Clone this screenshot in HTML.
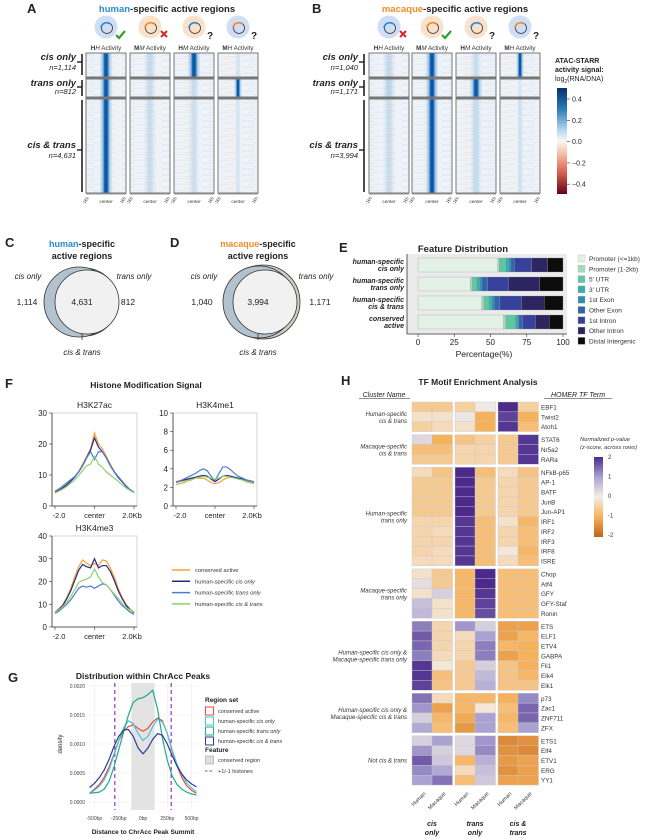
<!DOCTYPE html>
<html><head><meta charset="utf-8">
<style>
html,body{margin:0;padding:0;background:#fff;}
svg{display:block;font-family:"Liberation Sans",Arial,sans-serif;}
</style></head>
<body>
<svg id="fig" width="652" height="839" viewBox="0 0 652 839" xmlns="http://www.w3.org/2000/svg">
<defs id="defs">
  <linearGradient id="cbarB" x1="0" y1="0" x2="0" y2="1">
    <stop offset="0" stop-color="#08306b"/><stop offset="0.2" stop-color="#2b7bba"/><stop offset="0.4" stop-color="#b9d8ec"/>
    <stop offset="0.5" stop-color="#f7f7f7"/><stop offset="0.6" stop-color="#f9c9b0"/><stop offset="0.8" stop-color="#d6604d"/><stop offset="1" stop-color="#67001f"/>
  </linearGradient>
  <linearGradient id="cbarH" x1="0" y1="0" x2="0" y2="1">
    <stop offset="0" stop-color="#4b2a8c"/><stop offset="0.25" stop-color="#a9a2d3"/><stop offset="0.5" stop-color="#f4ede5"/>
    <stop offset="0.75" stop-color="#f6b25a"/><stop offset="1" stop-color="#c2621a"/>
  </linearGradient>
  <pattern id="streaks" width="40" height="6" patternUnits="userSpaceOnUse">
    <rect width="40" height="6" fill="#eff3f8"/>
    <line x1="2" y1="1" x2="14" y2="1" stroke="#cfe0f0" stroke-width="0.7"/>
    <line x1="24" y1="2.5" x2="36" y2="2.5" stroke="#f6dccc" stroke-width="0.6"/>
    <line x1="8" y1="4.5" x2="30" y2="4.5" stroke="#d8e7f3" stroke-width="0.6"/>
  </pattern>
</defs>
<g id="root"></g>
</svg>
<script>
// ---------- DATA ----------
// Panel E
const featCats = ["Promoter (<=1kb)","Promoter (1-2kb)","5' UTR","3' UTR","1st Exon","Other Exon","1st Intron","Other Intron","Distal Intergenic"];
const featRows = ["human-specific|cis only","human-specific|trans only","human-specific|cis & trans","conserved|active"];
const featCisOnly = [55,1,4.5,2,1.5,2.5,12,11,10.5];
const featTransOnly = [36,1.5,3,2,1.5,4,14.5,21.5,16];
const featCisTrans = [44,1.5,3.5,2,1.5,4,15,15.5,13];
const featConserved = [59,1.5,6.5,1.5,1,2.5,9,9.5,9.5];
const featTicks = [0,25,50,75,100];
// Panel F
const histX = [-2,-1.8,-1.6,-1.4,-1.2,-1,-0.8,-0.6,-0.4,-0.2,0,0.2,0.4,0.6,0.8,1,1.2,1.4,1.6,1.8,2];
const k27Cons = [4.5,5.2,6,7,8.2,9.5,11.2,13.5,16,18.5,23.5,20,18.5,16,13.5,11.2,9.5,8,6.5,5.3,4.5];
const k27Cis = [4.3,5,5.8,6.8,8,9.3,11,13,15.5,18,22,19,17.5,15.5,13,11,9.2,7.8,6.3,5.2,4.3];
const k27Trans = [4.8,5.5,6.5,7.5,8.5,9.5,11,13,15.5,17.5,15,17.5,17.5,15.5,13,11,9.5,8,6.5,5.3,4.5];
const k27CT = [4.2,4.8,5.5,6.3,7.3,8.5,9.8,11.5,13,13.5,16,13.5,12.5,11,10,9,8,6.8,5.8,5,4.3];
const k4me1Cons = [2.5,2.6,2.7,2.8,2.9,3,3,3,2.8,2.5,2.4,2.5,2.8,3,3.1,3,2.9,2.8,2.7,2.6,2.5];
const k4me1Cis = [2.6,2.7,2.8,2.9,3,3.1,3.2,3.3,3.2,2.9,2.6,2.9,3.2,3.3,3.2,3.1,3,2.9,2.8,2.7,2.6];
const k4me1Trans = [2.6,2.7,2.9,3.1,3.3,3.5,3.8,4,3.8,3.2,2.7,3.5,4.2,4.2,3.9,3.5,3.2,3,2.8,2.7,2.6];
const k4me1CT = [2.3,2.4,2.5,2.7,2.8,3,3.1,3.2,3.1,3,2.9,3,3.2,3.2,3.1,3,2.9,2.8,2.6,2.5,2.4];
const k4me3Cons = [6.5,8,10,13,17,22,26.5,29.5,28,27,28,27,29.5,29,26,22,17,13,10,8,6.5];
const k4me3Cis = [6.5,7.8,9.5,12.5,16,20.5,25,27.5,26.5,26,30,26,27,27,24.5,20.5,16,12.5,9.5,7.5,6.2];
const k4me3Trans = [6,7,8.5,10,12,14.5,17,18,17.5,18,17,18,19,18.5,16.5,14,11.5,9.5,8,6.5,5.5];
const k4me3CT = [6.5,7.5,9,11,13.5,16.5,19.5,20.5,21,22,25.5,22,19.5,18.5,16.5,14.5,12.5,10.5,8.5,7.5,6.5];
// Panel G
const distX = [-550,-500,-450,-400,-350,-300,-250,-200,-150,-100,-50,0,50,100,150,200,250,300,350,400,450,500,550];
const densCons = [.00015,.00022,.0003,.00042,.0006,.00082,.00105,.00122,.0013,.00133,.00127,.00122,.00127,.00138,.00145,.0014,.00118,.00088,.00062,.00042,.00028,.0002,.00015];
const densCis = [.00015,.0002,.00027,.00038,.00055,.0008,.00105,.00128,.0014,.00135,.00118,.00106,.00113,.0013,.00143,.00138,.00118,.0009,.00065,.00047,.00033,.00024,.00018];
const densTrans = [.00015,.00016,.00017,.00022,.00035,.0006,.0009,.0012,.0015,.00172,.00178,.0018,.00185,.00193,.0016,.0011,.00072,.00045,.0003,.00022,.00017,.00014,.00012];
const densCT = [.00025,.00032,.00042,.00055,.00073,.00095,.00113,.00124,.00125,.00113,.00093,.00083,.00093,.00108,.00118,.00115,.001,.0008,.00062,.00048,.00038,.00031,.00026];
const densTicks = [0,0.0005,0.001,0.0015,0.002];
const densTickLabels = ["0.0000","0.0005","0.0010","0.0015","0.0020"];
const distTicks = [-500,-250,0,250,500];
const distTickLabels = ["-500bp","-250bp","0bp","250bp","500bp"];
// Panel H
const tfNames = ["EBF1","Twist2","Atoh1","STAT6","Nr5a2","RARa","NFkB-p65","AP-1","BATF","JunB","Jun-AP1","IRF1","IRF2","IRF3","IRF8","ISRE","Chop","Atf4","GFY","GFY-Staf","Ronin","ETS","ELF1","ETV4","GABPA","Fli1","Elk4","Elk1","p73","Zac1","ZNF711","ZFX","ETS1","Elf4","ETV1","ERG","YY1"];
const tfGroupSizes = [3,3,10,5,7,4,5];
const tfGroupNames = ["Human-specific|cis & trans","Macaque-specific|cis & trans","Human-specific|trans only","Macaque-specific|trans only","Human-specific cis only &|Macaque-specific trans only","Human-specific cis only &|Macaque-specific cis & trans","Not cis & trans"];
const tfZ = [
[-0.6,-0.6,-0.5,0.05,2,-0.5],[-0.2,-0.2,0.1,-1,1.8,-1],[-0.5,-0.3,-0.2,-1,1.9,-0.8],
[0.3,-1,-0.7,-0.5,-0.6,1.9],[-0.8,-0.8,-0.4,-0.4,-0.6,1.9],[-0.6,-0.6,-0.4,-0.4,-0.6,1.9],
[-0.3,-0.7,2,-0.8,-0.3,-0.7],[-0.6,-0.6,2,-0.6,-0.4,-0.6],[-0.6,-0.6,2,-0.6,-0.4,-0.6],[-0.6,-0.6,2,-0.6,-0.4,-0.6],[-0.6,-0.6,2,-0.6,-0.4,-0.6],
[-0.4,-0.4,1.9,-0.8,-0.2,-0.9],[-0.4,-0.3,1.9,-0.8,-0.4,-0.8],[-0.4,-0.4,1.9,-0.8,-0.4,-0.8],[-0.4,-0.3,1.9,-0.8,-0.1,-0.9],[-0.3,-0.3,1.9,-0.8,-0.3,-0.8],
[-0.2,-0.6,-0.9,2,-0.8,-0.8],[0.2,-0.6,-0.9,2,-0.8,-0.8],[-0.2,0.4,-0.9,1.9,-0.8,-0.8],[0.6,-0.2,-0.9,1.8,-0.8,-0.8],[0.7,-0.2,-0.9,1.7,-0.8,-0.8],
[1.3,-0.4,1.1,0.4,-1.2,-1.2],[1.6,-0.4,-0.3,1,-1.2,-0.9],[1.5,-0.4,-0.4,1.3,-0.9,-1],[1.3,-0.3,-0.4,1.3,-1.2,-1],[1.9,-0.1,-0.6,0.4,-0.7,-1],[1.9,-0.8,-0.6,0.7,-0.7,-0.9],[1.8,-0.7,-0.6,0.8,-0.7,-0.7],
[1.4,-0.3,-0.9,-0.9,-1,1.2],[1.1,-1.2,-0.9,-0.1,-0.8,1.5],[0.4,-0.9,-1.1,1,-0.9,1.5],[0.9,-0.8,-1.3,1,-0.8,1],
[0.4,1,0.3,1.1,-1.5,-1.4],[1.1,0.4,0.3,1.2,-1.4,-1.5],[1.6,0.5,-0.9,0.8,-1.3,-1.2],[1.2,0.9,-0.3,0.6,-1.4,-1.2],[1,1.4,-0.8,0.5,-1.2,-1.2]];
// Panels A/B stripe intensity per tile [row][col]
const stripeA = [[1,0.25,0.95,0.1],[1,0.22,0.2,0.95],[1,0.2,0.15,0.08]];
const stripeB = [[0.25,1,0.2,0.95],[0.35,1,0.95,0.05],[0.2,1,0.25,0.15]];

// ---------- HELPERS ----------
const NS="http://www.w3.org/2000/svg";
const root=document.getElementById('root');
const defs=document.getElementById('defs');
function mk(tag,attrs,parent){const e=document.createElementNS(NS,tag);for(const k in attrs)e.setAttribute(k,attrs[k]);(parent||root).appendChild(e);return e;}
function txt(x,y,s,attrs,parent){const e=mk('text',Object.assign({x:x,y:y,'font-size':8,fill:'#222'},attrs||{}),parent);e.textContent=s;return e;}
function grp(name){const g=mk('g',{});return g;}
let gradN=0;
function stripeGrad(k,narrow){
  const id='sg'+(gradN++);
  const lg=mk('linearGradient',{id:id,x1:0,y1:0,x2:1,y2:0},defs);
  const w=narrow?0.05:0.08;
  const core=k>0.5?'#0b58a8':'#8fbfe4';
  const stops=[[0,'#9cc7e8',0],[0.5-w*2.2,'#9cc7e8',0],[0.5-w*1.1,'#6aa8da',k*0.6],[0.5-w*0.4,core,Math.min(1,k+0.2)],[0.5+w*0.4,core,Math.min(1,k+0.2)],[0.5+w*1.1,'#6aa8da',k*0.6],[0.5+w*2.2,'#9cc7e8',0],[1,'#9cc7e8',0]];
  stops.forEach(s=>mk('stop',{offset:s[0],'stop-color':s[1],'stop-opacity':s[2]},lg));
  return id;
}

// ---------- PANEL A / B ----------
function heatPanel(prefix,letterX,titleCx,titleWord,titleColor,colX,stripes,icons,labels,rowLabels,bx){
  const g=grp('panel-'+prefix);
  let t=txt(letterX,13,prefix.toUpperCase(),{'font-size':13,'font-weight':'bold'},g);
  
  
  t=mk('text',{x:titleCx,y:12,'font-size':9.5,'font-weight':'bold','text-anchor':'middle',fill:'#222'},g);
  
  
  const s1=mk('tspan',{fill:titleColor},t);s1.textContent=titleWord;const s2=mk('tspan',{},t);s2.textContent='-specific active regions';
  const rows=[[53,77],[79,97],[99,193]];
  colX.forEach((x0,c)=>{
    const cx=x0+20;
    const ic=icons[c];
    const circ=mk('circle',{cx:cx,cy:27,r:11.5,fill:ic.bg,opacity:0.85},g);
    
    
    mk('circle',{cx:cx+1,cy:28,r:5.5,fill:'none',stroke:'#333','stroke-width':0.8},g);
    mk('path',{d:`M${cx-5} ${28} A5.5 5.5 0 0 1 ${cx+4} ${24}`,fill:'none',stroke:ic.arc,'stroke-width':1.6},g);
    if(ic.mark==='check'){mk('path',{d:`M${cx+10} ${35} l3 3 l6 -7`,fill:'none',stroke:'#2ca02c','stroke-width':2.2},g);}
    else if(ic.mark==='x'){mk('path',{d:`M${cx+11} ${31} l6 6 M${cx+17} ${31} l-6 6`,fill:'none',stroke:'#d62728','stroke-width':2},g);}
    else txt(cx+13,39,'?',{'font-size':10,'font-weight':'bold'},g);
    const lb=mk('text',{x:cx,y:50,'font-size':6.3,'text-anchor':'middle',fill:'#333'},g);
    
    
    const a=mk('tspan',{'font-weight':'bold'},lb);a.textContent=labels[c][0];const b2=mk('tspan',{'font-style':'italic'},lb);b2.textContent=labels[c][1];const cc=mk('tspan',{},lb);cc.textContent=' Activity';
    rows.forEach((r,ri)=>{
      const k=stripes[ri][c];
      const r1=mk('rect',{x:x0,y:r[0],width:40,height:r[1]-r[0],fill:'url(#streaks)',stroke:'#777','stroke-width':1},g);
      
      
      const narrow=(prefix==='a'&&c===3)||(prefix==='b'&&c===3);
      mk('rect',{x:x0+0.5,y:r[0]+0.5,width:39,height:r[1]-r[0]-1,fill:'url(#'+stripeGrad(k,narrow)+')'},g);
    });
    mk('rect',{x:x0-0.5,y:76.5,width:41,height:2.5,fill:'#777'},g);
    mk('rect',{x:x0-0.5,y:96.5,width:41,height:2.5,fill:'#777'},g);
    mk('line',{x1:x0,y1:194,x2:x0+40,y2:194,stroke:'#333','stroke-width':0.6},g);
    txt(cx,203,'center',{'font-size':4.8,'text-anchor':'middle',fill:'#333'},g);
    [['-1kb',x0+3],['1kb',x0+40]].forEach(([s,xx])=>{
      txt(xx,198,s,{'font-size':4.3,'text-anchor':'end',fill:'#333',transform:`rotate(-55 ${xx} 198)`},g);
    });
  });
  const ys=[[60,70,54,75],[86,94,80,96],[148,158,100,192]];
  rowLabels.forEach((rl,i)=>{
    const y=ys[i];
    let e=txt(bx-6,y[0],rl[0],{'font-size':9.5,'font-weight':'bold','font-style':'italic','text-anchor':'end'},g);
    
    
    txt(bx-6,y[1],rl[1],{'font-size':7.5,'font-style':'italic','text-anchor':'end'},g);
    mk('line',{x1:bx,y1:y[2],x2:bx,y2:y[3],stroke:'#222','stroke-width':1.6},g);
    mk('line',{x1:bx-5,y1:(y[0]+y[1])/2-3,x2:bx,y2:(y[0]+y[1])/2-3,stroke:'#222','stroke-width':1.4},g);
  });
}
const blueBg='#c7d8f2',orBg='#f9dcc2',bl='#2b8ad6',orn='#f28c28';
heatPanel('a',27,167,'human','#2b8ad6',[86,130,174,218],stripeA,
 [{bg:blueBg,arc:bl,mark:'check'},{bg:orBg,arc:orn,mark:'x'},{bg:orBg,arc:bl,mark:'q'},{bg:blueBg,arc:orn,mark:'q'}],
 [['H','H'],['M','M'],['H','M'],['M','H']],[['cis only','n=1,114'],['trans only','n=812'],['cis & trans','n=4,631']],82);
heatPanel('b',312,455,'macaque','#f28c28',[369,412,456,500],stripeB,
 [{bg:blueBg,arc:bl,mark:'x'},{bg:orBg,arc:orn,mark:'check'},{bg:orBg,arc:bl,mark:'q'},{bg:blueBg,arc:orn,mark:'q'}],
 [['H','H'],['M','M'],['H','M'],['M','H']],[['cis only','n=1,040'],['trans only','n=1,171'],['cis & trans','n=3,994']],364);
(function(){const g=grp('activity-colorbar');
 txt(555,63,'ATAC-STARR',{'font-size':7,'font-weight':'bold'},g);
 txt(555,72,'activity signal:',{'font-size':7,'font-weight':'bold'},g);
 const t=txt(555,81,'log',{'font-size':7},g);const s=mk('tspan',{'font-size':5,dy:2},t);s.textContent='2';const s2=mk('tspan',{dy:-2},t);s2.textContent='(RNA/DNA)';
 mk('rect',{x:557,y:88,width:10,height:106,fill:'url(#cbarB)'},g);
 ['0.4','0.2','0.0','\u22120.2','\u22120.4'].forEach((l,i)=>{const y=99+i*21.3;mk('line',{x1:567,y1:y,x2:570,y2:y,stroke:'#333','stroke-width':0.6},g);txt(572,y+2.5,l,{'font-size':7},g);});
})();

// ---------- PANEL C / D (Venn) ----------
function venn(letter,lx,cx,word,color,nums,blueCx,blueR,begCx,begR,inCx,inR,off){
  const g=grp('venn-'+letter);
  let e=txt(lx,247,letter.toUpperCase(),{'font-size':13,'font-weight':'bold'},g);
  
  
  const t=mk('text',{x:cx,y:247,'font-size':9,'font-weight':'bold','text-anchor':'middle',fill:'#222'},g);
  const a=mk('tspan',{fill:color},t);a.textContent=word;const b=mk('tspan',{},t);b.textContent='-specific';
  txt(cx,259,'active regions',{'font-size':9,'font-weight':'bold','text-anchor':'middle'},g);
  mk('circle',{cx:begCx,cy:302,r:begR,fill:'#d3cbbd',stroke:'#333','stroke-width':0.8},g);
  mk('circle',{cx:blueCx,cy:302,r:blueR,fill:'#b3c2cf',stroke:'#333','stroke-width':0.8},g);
  mk('circle',{cx:inCx,cy:302,r:inR,fill:'#f1f1f2',stroke:'#333','stroke-width':0.8},g);
  mk('line',{x1:cx,y1:302+inR,x2:cx,y2:302+inR+6,stroke:'#333','stroke-width':0.8},g);
  txt(cx+off[0],279,'cis only',{'font-size':8,'font-style':'italic','text-anchor':'middle'},g);
  txt(cx+off[1],279,'trans only',{'font-size':8,'font-style':'italic','text-anchor':'middle'},g);
  txt(cx+off[2],305,nums[0],{'font-size':8.5,'text-anchor':'middle'},g);
  txt(cx,305,nums[1],{'font-size':8.5,'text-anchor':'middle'},g);
  txt(cx+off[3],305,nums[2],{'font-size':8.5,'text-anchor':'middle'},g);
  txt(cx,355,'cis & trans',{'font-size':8,'font-style':'italic','text-anchor':'middle'},g);
}
venn('c',5,82,'human','#2b8ad6',['1,114','4,631','812'],79,35,84,34,87,32,[-54,52,-55,46]);
venn('d',170,258,'macaque','#f28c28',['1,040','3,994','1,171'],259,36,263,37,265,32,[-54,58,-56,62]);

// ---------- PANEL E ----------
(function(){
  const g=grp('feature-distribution-chart');
  let e=txt(339,252,'E',{'font-size':13,'font-weight':'bold'},g);
  
  
  txt(463,252,'Feature Distribution',{'font-size':9.5,'font-weight':'bold','text-anchor':'middle'},g);
  const colors=['#e3f1e6','#a3dbbd','#5ec8a5','#35b0ad','#2d8fae','#3166ab','#35419b','#2c2560','#0c0c0c'];
  const x0=418,x1=563;const xs=v=>x0+(x1-x0)*v/100;
  const rowsData=[featCisOnly,featTransOnly,featCisTrans,featConserved];
  mk('rect',{x:407,y:254,width:160,height:80,fill:'#ebebeb'},g);
  rowsData.forEach((d,ri)=>{
    const y=258+ri*19;let acc=0;
    d.forEach((v,ci)=>{
      const r=mk('rect',{x:xs(acc),y:y,width:xs(acc+v)-xs(acc),height:14,fill:colors[ci],stroke:'#999','stroke-width':0.3},g);
      
      
      acc+=v;
    });
    const parts=featRows[ri].split('|');
    txt(404,y+6,parts[0],{'font-size':7,'font-weight':'bold','font-style':'italic','text-anchor':'end'},g);
    txt(404,y+13,parts[1],{'font-size':7,'font-weight':'bold','font-style':'italic','text-anchor':'end'},g);
  });
  mk('line',{x1:407,y1:334,x2:567,y2:334,stroke:'#333','stroke-width':0.8},g);
  mk('line',{x1:407,y1:254,x2:407,y2:334,stroke:'#333','stroke-width':0.8},g);
  featTicks.forEach(t=>{mk('line',{x1:xs(t),y1:334,x2:xs(t),y2:337,stroke:'#333','stroke-width':0.6},g);txt(xs(t),345,String(t),{'font-size':8,'text-anchor':'middle'},g);});
  txt(484,357,'Percentage(%)',{'font-size':8.5,'text-anchor':'middle'},g);
  featCats.forEach((c,i)=>{const y=256+i*10.3;
    const sw=mk('rect',{x:578,y:y-1,width:7,height:7,fill:colors[i],stroke:'#aaa','stroke-width':0.3},g);
    
    
    txt(589,y+5,c,{'font-size':6.5,fill:'#333'},g);});
})();

// ---------- PANEL F ----------
const hColors=['#f7a031','#232a8a','#4a7fd9','#8fd16a'];
function histPlot(name,title,x0,x1,ytop,ybot,ymax,yticks,series){
  const g=grp('histone-plot-'+name);
  txt((x0+x1)/2,ytop-5,title,{'font-size':8.5,'text-anchor':'middle'},g);
  mk('rect',{x:x0,y:ytop,width:x1-x0,height:ybot-ytop,fill:'none',stroke:'#bbb','stroke-width':0.6},g);
  mk('line',{x1:x0,y1:ytop,x2:x0,y2:ybot,stroke:'#333','stroke-width':0.8},g);
  mk('line',{x1:x0,y1:ybot,x2:x1,y2:ybot,stroke:'#333','stroke-width':0.8},g);
  const xs=v=>x0+3+(x1-x0-6)*(v+2)/4, ys=v=>ybot-(ybot-ytop)*v/ymax;
  yticks.forEach(t=>{mk('line',{x1:x0-3,y1:ys(t),x2:x0,y2:ys(t),stroke:'#333','stroke-width':0.6},g);txt(x0-5,ys(t)+3,String(t),{'font-size':8,'text-anchor':'end'},g);});
  [[-2,'-2.0'],[0,'center'],[2,'2.0Kb']].forEach(([v,l])=>{mk('line',{x1:xs(v),y1:ybot,x2:xs(v),y2:ybot+3,stroke:'#333','stroke-width':0.6},g);txt(xs(v)+(v===-2?4:v===2?-2:0),ybot+12,l,{'font-size':7.5,'text-anchor':'middle'},g);});
  series.forEach((s,si)=>{
    const p=mk('polyline',{points:histX.map((x,i)=>xs(x)+','+ys(s[i])).join(' '),fill:'none',stroke:hColors[si],'stroke-width':1.2},g);
    
    
  });
}
(function(){const g=grp('panel-f-header');
 let e=txt(5,388,'F',{'font-size':13,'font-weight':'bold'},g);
 
 
 txt(146,388,'Histone Modification Signal',{'font-size':8.5,'font-weight':'bold','text-anchor':'middle'},g);})();
histPlot('h3k27ac','H3K27ac',52,137,413,506,30,[0,10,20,30],[k27Cons,k27Cis,k27Trans,k27CT]);
histPlot('h3k4me1','H3K4me1',173,257,413,506,10,[0,2,4,6,8,10],[k4me1Cons,k4me1Cis,k4me1Trans,k4me1CT]);
histPlot('h3k4me3','H3K4me3',52,137,536,627,40,[0,10,20,30,40],[k4me3Cons,k4me3Cis,k4me3Trans,k4me3CT]);
(function(){const g=grp('histone-legend');
 const L=[['conserved active',''],['human-specific ','cis only'],['human-specific ','trans only'],['human-specific ','cis & trans']];
 L.forEach((l,i)=>{const y=570+i*11.3;
  const ln=mk('line',{x1:172,y1:y,x2:190,y2:y,stroke:hColors[i],'stroke-width':1.5},g);
  
  
  const t=txt(195,y+2,l[0],{'font-size':5.8,fill:'#333'},g);const s=mk('tspan',{'font-style':'italic'},t);s.textContent=l[1];});
})();

// ---------- PANEL G ----------
(function(){
  const g=grp('density-chart');
  let e=txt(8,682,'G',{'font-size':13,'font-weight':'bold'},g);
  
  
  txt(143,679,'Distribution within ChrAcc Peaks',{'font-size':8.5,'font-weight':'bold','text-anchor':'middle'},g);
  const x0=88,x1=199,yt=686,yb=802;
  const xs=v=>143+v*0.0972, ys=v=>yb-(yb-yt)*v/0.002;
  mk('rect',{x:x0,y:yt-3,width:x1-x0,height:yb-yt+11,fill:'#fff'},g);
  distTicks.forEach(t=>mk('line',{x1:xs(t),y1:yt-3,x2:xs(t),y2:yb+8,stroke:'#ececec','stroke-width':0.6},g));
  densTicks.forEach(t=>mk('line',{x1:x0,y1:ys(t),x2:x1,y2:ys(t),stroke:'#ececec','stroke-width':0.6},g));
  mk('rect',{x:xs(-120),y:yt-3,width:xs(120)-xs(-120),height:yb-yt+11,fill:'#e3e3e3'},g);
  [-290,290].forEach(v=>mk('line',{x1:xs(v),y1:yt-3,x2:xs(v),y2:yb+8,stroke:'#9b30c9','stroke-width':1.2,'stroke-dasharray':'4,3'},g));
  const cols=['#f04a3a','#46c4e0','#22a98a','#2a3f8f'];
  [densCons,densCis,densTrans,densCT].forEach((s,si)=>{
    const p=mk('polyline',{points:distX.map((x,i)=>xs(x)+','+ys(s[i])).join(' '),fill:'none',stroke:cols[si],'stroke-width':1.2,'stroke-linejoin':'round'},g);
    
    
  });
  densTicks.forEach((t,i)=>txt(x0-3,ys(t)+2,densTickLabels[i],{'font-size':5,'text-anchor':'end',fill:'#444'},g));
  distTicks.forEach((t,i)=>txt(xs(t),820,distTickLabels[i],{'font-size':5,'text-anchor':'middle',fill:'#444'},g));
  txt(62,744,'density',{'font-size':6,'text-anchor':'middle',transform:'rotate(-90 62 744)'},g);
  txt(143,834,'Distance to ChrAcc Peak Summit',{'font-size':6.5,'font-weight':'bold','text-anchor':'middle'},g);
  txt(205,702,'Region set',{'font-size':6.5,'font-weight':'bold'},g);
  const L=[['conserved active',''],['human-specific ','cis only'],['human-specific ','trans only'],['human-specific ','cis & trans']];
  L.forEach((l,i)=>{const y=707+i*10;
    const r=mk('rect',{x:205.5,y:y,width:8,height:8,fill:'#fff',stroke:cols[i],'stroke-width':1},g);
    
    
    const t=txt(218,y+6,l[0],{'font-size':5.5,fill:'#333'},g);const s=mk('tspan',{'font-style':'italic'},t);s.textContent=l[1];});
  txt(205,752,'Feature',{'font-size':6.5,'font-weight':'bold'},g);
  mk('rect',{x:205.5,y:756,width:8,height:8,fill:'#e0e0e0',stroke:'#999','stroke-width':0.6},g);
  txt(218,762,'conserved region',{'font-size':5.5,fill:'#333'},g);
  mk('line',{x1:205,y1:771,x2:214,y2:771,stroke:'#9b30c9','stroke-width':1,'stroke-dasharray':'2.5,2'},g);
  txt(218,773,'+1/-1 histones',{'font-size':5.5,fill:'#333'},g);
})();

// ---------- PANEL H ----------
function zColor(z){
  const stops=[[-2,[194,98,26]],[-1,[246,178,90]],[0,[244,237,229]],[1,[169,162,211]],[2,[75,42,140]]];
  z=Math.max(-2,Math.min(2,z));
  for(let i=0;i<4;i++){const a=stops[i],b=stops[i+1];if(z<=b[0]){const t=(z-a[0])/(b[0]-a[0]);return 'rgb('+a[1].map((c,k)=>Math.round(c+(b[1][k]-c)*t)).join(',')+')';}}
}
(function(){
  const g=grp('tf-motif-heatmap');
  let e=txt(341,385,'H',{'font-size':13,'font-weight':'bold'},g);
  
  
  txt(478,385,'TF Motif Enrichment Analysis',{'font-size':8.5,'font-weight':'bold','text-anchor':'middle'},g);
  txt(384,397,'Cluster Name',{'font-size':7,'font-style':'italic','text-anchor':'middle'},g);
  mk('line',{x1:359,y1:398.5,x2:410,y2:398.5,stroke:'#222','stroke-width':0.5},g);
  txt(578,397,'HOMER TF Term',{'font-size':7,'font-style':'italic','text-anchor':'middle'},g);
  mk('line',{x1:544,y1:398.5,x2:612,y2:398.5,stroke:'#222','stroke-width':0.5},g);
  const colX=[412,432,455,475,498,518];const rowH=9.85,gap=3.1;
  let y=402,ri=0;
  tfGroupSizes.forEach((n,gi)=>{
    const gy0=y;
    for(let k=0;k<n;k++){
      tfZ[ri].forEach((z,ci)=>{
        const r=mk('rect',{x:colX[ci],y:y,width:20.5,height:rowH,fill:zColor(z),stroke:'#c8c8c8','stroke-width':0.4},g);
        
        
      });
      txt(541,y+7.5,tfNames[ri],{'font-size':6.3,fill:'#333'},g);
      y+=rowH;ri++;
    }
    const mid=(gy0+y)/2;const parts=tfGroupNames[gi].split('|');
    if(parts.length===1)txt(407,mid+2,parts[0],{'font-size':6,'font-style':'italic','text-anchor':'end',fill:'#333'},g);
    else{txt(407,mid-1,parts[0],{'font-size':6,'font-style':'italic','text-anchor':'end',fill:'#333'},g);txt(407,mid+6,parts[1],{'font-size':6,'font-style':'italic','text-anchor':'end',fill:'#333'},g);}
    y+=gap;
  });
  ['Human','Macaque','Human','Macaque','Human','Macaque'].forEach((s,i)=>{const x=colX[i]+14,yy=794;txt(x,yy,s,{'font-size':5.5,'text-anchor':'end',transform:`rotate(-45 ${x} ${yy})`,fill:'#333'},g);});
  [['cis','only',432],['trans','only',475],['cis &','trans',518]].forEach(l=>{
    txt(l[2],826,l[0],{'font-size':7,'font-weight':'bold','font-style':'italic','text-anchor':'middle'},g);
    txt(l[2],835,l[1],{'font-size':7,'font-weight':'bold','font-style':'italic','text-anchor':'middle'},g);});
  txt(580,441,'Normalized p-value',{'font-size':5.8,'font-style':'italic',fill:'#333'},g);
  txt(580,449,'(z-score, across rows)',{'font-size':5.8,'font-style':'italic',fill:'#333'},g);
  const cb=mk('rect',{x:594,y:457,width:9,height:80,fill:'url(#cbarH)'},g);
  
  
  ['2','1','0','-1','-2'].forEach((l,i)=>txt(608,459+i*19.5,l,{'font-size':6,fill:'#333'},g));
})();
</script>
</body></html>
